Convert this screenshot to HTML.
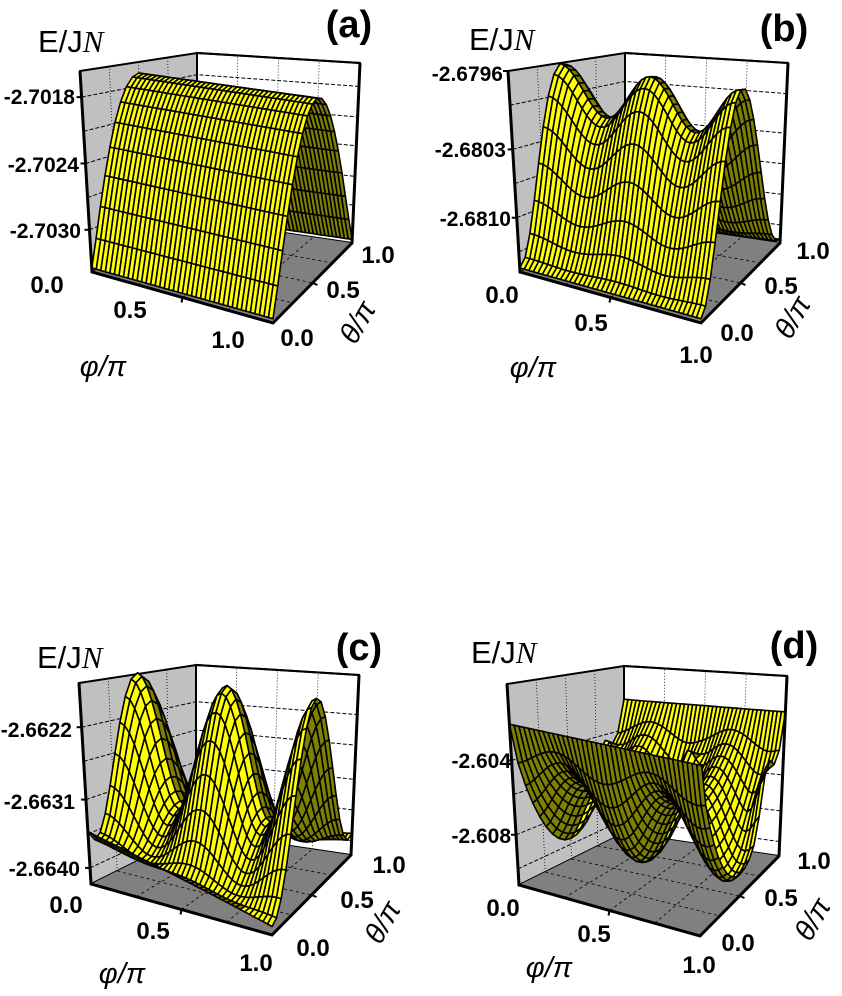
<!DOCTYPE html>
<html><head><meta charset="utf-8"><style>
html,body{margin:0;padding:0;background:#fff;}
svg{display:block;}
text{font-family:"Liberation Sans",Arial,sans-serif;fill:#000;}
.t{font-weight:bold;font-size:24px;text-anchor:middle;}
.z{font-weight:bold;font-size:21px;text-anchor:end;}
.p{font-weight:bold;font-size:38px;text-anchor:middle;}
.e{font-size:31px;}
.ax{font-size:29px;font-style:italic;text-anchor:middle;}
</style></head><body>
<svg id="s" width="842" height="996" viewBox="0 0 842 996" xmlns="http://www.w3.org/2000/svg">
<g id="g"></g>
<!-- Panel a labels -->
<text class="z" x="75" y="104">-2.7018</text>
<text class="z" x="79" y="172">-2.7024</text>
<text class="z" x="81" y="238">-2.7030</text>
<text class="t" x="47" y="293">0.0</text><text class="t" x="130" y="318">0.5</text><text class="t" x="228" y="348">1.0</text>
<text class="t" x="297" y="346">0.0</text><text class="t" x="343" y="298">0.5</text><text class="t" x="378" y="263">1.0</text>
<text class="ax" transform="translate(366,327) rotate(-60)">θ/π</text>
<text class="ax" x="103" y="376">φ/π</text>
<text class="p" x="349" y="37">(a)</text>
<text class="e" x="38" y="52">E/J<tspan font-family="Liberation Serif" font-style="italic">N</tspan></text>
<!-- Panel b -->
<text class="z" x="503" y="81">-2.6796</text>
<text class="z" x="506" y="157">-2.6803</text>
<text class="z" x="511" y="226">-2.6810</text>
<text class="t" x="502" y="303">0.0</text><text class="t" x="591" y="331">0.5</text><text class="t" x="696" y="363">1.0</text>
<text class="t" x="737" y="341">0.0</text><text class="t" x="781" y="294">0.5</text><text class="t" x="813" y="259">1.0</text>
<text class="ax" transform="translate(801,322) rotate(-60)">θ/π</text>
<text class="ax" x="533" y="377">φ/π</text>
<text class="p" x="784" y="41">(b)</text>
<text class="e" x="469" y="50">E/J<tspan font-family="Liberation Serif" font-style="italic">N</tspan></text>
<!-- Panel c -->
<text class="z" x="72" y="737">-2.6622</text>
<text class="z" x="75" y="809">-2.6631</text>
<text class="z" x="80" y="876">-2.6640</text>
<text class="t" x="66" y="913">0.0</text><text class="t" x="153" y="939">0.5</text><text class="t" x="256" y="971">1.0</text>
<text class="t" x="313" y="956">0.0</text><text class="t" x="357" y="908">0.5</text><text class="t" x="389" y="873">1.0</text>
<text class="ax" transform="translate(391,927) rotate(-60)">θ/π</text>
<text class="ax" x="122" y="983">φ/π</text>
<text class="p" x="359" y="660">(c)</text>
<text class="e" x="37" y="668">E/J<tspan font-family="Liberation Serif" font-style="italic">N</tspan></text>
<!-- Panel d -->
<text class="z" x="511" y="768">-2.604</text>
<text class="z" x="511" y="843">-2.608</text>
<text class="t" x="503" y="916">0.0</text><text class="t" x="594" y="942">0.5</text><text class="t" x="699" y="973">1.0</text>
<text class="t" x="738" y="951">0.0</text><text class="t" x="781" y="906">0.5</text><text class="t" x="814" y="869">1.0</text>
<text class="ax" transform="translate(821,924) rotate(-60)">θ/π</text>
<text class="ax" x="549" y="977">φ/π</text>
<text class="p" x="794" y="658">(d)</text>
<text class="e" x="471" y="663">E/J<tspan font-family="Liberation Serif" font-style="italic">N</tspan></text>
</svg>
<script>
(function(){
var C={"000":[92,272],"100":[273,323],"110":[352,243],"010":[197,220],
"001":[80,71],"101":[275,110],"111":[360,63],"011":[197,53]};
function P(ox,oy,p,t,z){
  var x=0,y=0;
  for(var a=0;a<2;a++)for(var b=0;b<2;b++)for(var c=0;c<2;c++){
    var w=(a?p:1-p)*(b?t:1-t)*(c?z:1-z);var q=C[""+a+b+c];x+=w*q[0];y+=w*q[1];}
  return [x+ox,y+oy];
}
function pts(arr){return arr.map(function(q){return q[0].toFixed(1)+","+q[1].toFixed(1)}).join(" ");}
var S=Math.sin,PI=Math.PI,cos=Math.cos,exp=Math.exp;
var F={
 a:function(p,t){return 0.02+0.92*Math.pow(S(PI*t),1.1);},
 b:function(p,t){var g=0.87+0.13*cos(2*PI*(2*p-1));return 0.02+0.98*Math.pow(S(PI*Math.pow(t,0.9)),2.2)*g;},
 c:function(p,t){var g=Math.pow((1+cos(2*PI*(2*p-1)))/2,1.0);return 0.04+0.96*Math.pow(S(PI*t),2.2)*(0.3+0.7*g)+0.22*exp(-t*7)*(1-p)+0.08*exp(-(1-t)*10)*p;},
 d:function(p,t){var v=0.75+0.25*cos(2*PI*(2*p-1)+0.6);var sp=Math.pow((1+cos(2*PI*(2*p-1)))/2,6);
   var z=0.8-0.72*Math.pow(S(PI*t),0.7)*v;
   z+=0.25*exp(-Math.pow((t-0.8)/0.08,2))*sp; return Math.max(0.02,Math.min(0.98,z));}
};
var panels=[[0,0,"a",[0.87,0.54,0.21]],[428,0,"b",[1.0,0.61,0.27]],[-1,612,"c",[0.78,0.42,0.08]],[427,613,"d",[0.62,0.25]]];
var h="";
panels.forEach(function(pn){
  var ox=pn[0],oy=pn[1],f=F[pn[2]],tk=pn[3];
  function Q(p,t,z){return P(ox,oy,p,t,z);}
  h+='<polygon points="'+pts([Q(0,0,0),Q(0,1,0),Q(0,1,1),Q(0,0,1)])+'" fill="#c0c0c0" stroke="#000" stroke-width="2"/>';
  h+='<polygon points="'+pts([Q(0,1,0),Q(1,1,0),Q(1,1,1),Q(0,1,1)])+'" fill="#fff" stroke="#000" stroke-width="2"/>';
  h+='<polygon points="'+pts([Q(0,0,0),Q(1,0,0),Q(1,1,0),Q(0,1,0)])+'" fill="#808080" stroke="none"/>';
  var zl=[];tk.forEach(function(z){zl.push(z);if(z-0.17>0.02)zl.push(z-0.17);});
  zl.forEach(function(z){if(z>0.99)return;
    h+='<polyline points="'+pts([Q(0,0,z),Q(0,1,z),Q(1,1,z)])+'" fill="none" stroke="#000" stroke-width="1" stroke-dasharray="4,2"/>';});
  [0.25,0.5,0.75].forEach(function(u){
    h+='<line x1="'+Q(0,u,0)[0]+'" y1="'+Q(0,u,0)[1]+'" x2="'+Q(0,u,1)[0]+'" y2="'+Q(0,u,1)[1]+'" stroke="#000" stroke-width="0.8" stroke-dasharray="1,2"/>';
    h+='<line x1="'+Q(u,1,0)[0]+'" y1="'+Q(u,1,0)[1]+'" x2="'+Q(u,1,1)[0]+'" y2="'+Q(u,1,1)[1]+'" stroke="#000" stroke-width="0.8" stroke-dasharray="1,2"/>';
    h+='<line x1="'+Q(u,0,0)[0]+'" y1="'+Q(u,0,0)[1]+'" x2="'+Q(u,1,0)[0]+'" y2="'+Q(u,1,0)[1]+'" stroke="#000" stroke-width="0.8" stroke-dasharray="3,3"/>';
    h+='<line x1="'+Q(0,u,0)[0]+'" y1="'+Q(0,u,0)[1]+'" x2="'+Q(1,u,0)[0]+'" y2="'+Q(1,u,0)[1]+'" stroke="#000" stroke-width="0.8" stroke-dasharray="3,3"/>';
  });
  var NP=40,NT=18,qs=[];
  for(var i=0;i<NP;i++)for(var j=0;j<NT;j++){
    var p0=i/NP,p1=(i+1)/NP,t0=j/NT,t1=(j+1)/NT;
    var z00=f(p0,t0),z10=f(p1,t0),z11=f(p1,t1),z01=f(p0,t1);
    var sl=((z01+z11)-(z00+z10))/2;
    qs.push({k:(t0+t1)/2*1.0+(1-(p0+p1)/2)*0.35,
      s:'<polygon points="'+pts([Q(p0,t0,z00),Q(p1,t0,z10),Q(p1,t1,z11),Q(p0,t1,z01)])+'" fill="'+(sl>-0.004?"#ffff00":"#808000")+'"/>'});
  }
  qs.sort(function(a,b){return b.k-a.k;});
  h+='<g stroke="#000" stroke-width="1.6" stroke-linejoin="round">'+qs.map(function(q){return q.s}).join("")+'</g>';
  h+='<polyline points="'+pts([Q(0,0,1),Q(0,0,0),Q(1,0,0),Q(1,1,0),Q(1,1,1)])+'" fill="none" stroke="#000" stroke-width="3"/>';
  h+='<line x1="'+Q(0,1,1)[0]+'" y1="'+Q(0,1,1)[1]+'" x2="'+Q(1,1,1)[0]+'" y2="'+Q(1,1,1)[1]+'" stroke="#000" stroke-width="2"/>';
  tk.forEach(function(z){var a=Q(0,0,z);h+='<line x1="'+(a[0]-5)+'" y1="'+a[1]+'" x2="'+a[0]+'" y2="'+a[1]+'" stroke="#000" stroke-width="2"/>';});
  [0.5].forEach(function(u){var a=Q(u,0,0);h+='<line x1="'+a[0]+'" y1="'+a[1]+'" x2="'+(a[0]-1)+'" y2="'+(a[1]+5)+'" stroke="#000" stroke-width="2"/>';
    var b=Q(1,u,0);h+='<line x1="'+b[0]+'" y1="'+b[1]+'" x2="'+(b[0]+5)+'" y2="'+(b[1]+2)+'" stroke="#000" stroke-width="2"/>';});
});
document.getElementById("g").innerHTML=h;
})();
</script>
</body></html>
